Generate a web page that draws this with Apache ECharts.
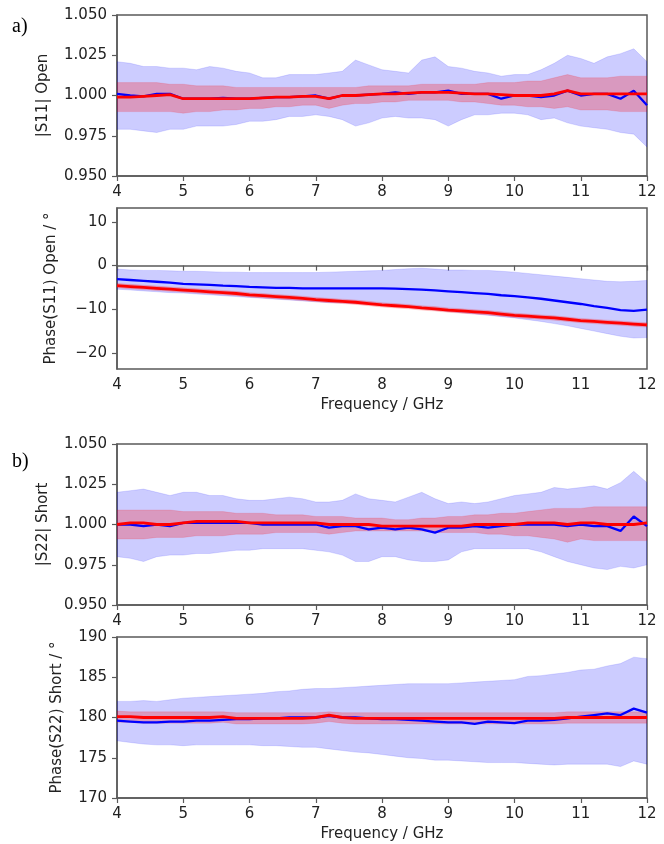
<!DOCTYPE html>
<html>
<head>
<meta charset="utf-8">
<script src="https://cdn.jsdelivr.net/npm/echarts@6/dist/echarts.min.js"></script>
<style>
html,body{margin:0;padding:0;background:#fff;}
#chart{width:664px;height:844px;}
</style>
</head>
<body>
<div id="chart"></div>
<script>
// ---------- DATA ----------
const freq = [4.0,4.2,4.4,4.6,4.8,5.0,5.2,5.4,5.6,5.8,6.0,6.2,6.4,6.6,6.8,7.0,7.2,7.4,7.6,7.8,8.0,8.2,8.4,8.6,8.8,9.0,9.2,9.4,9.6,9.8,10.0,10.2,10.4,10.6,10.8,11.0,11.2,11.4,11.6,11.8,12.0];
const xTicks = [4,5,6,7,8,9,10,11,12];

// Panel a) |S11| Open
const s11MagBlue = [1.001,1.000,0.9995,1.001,1.001,0.998,0.998,0.998,0.9985,0.998,0.998,0.9985,0.999,0.999,0.9995,1.000,0.998,1.000,1.000,1.0005,1.001,1.002,1.001,1.002,1.002,1.003,1.001,1.001,1.001,0.998,1.000,1.000,0.999,1.000,1.003,1.000,1.001,1.001,0.998,1.003,0.994];
const s11MagBlueHi = [1.021,1.020,1.018,1.018,1.017,1.017,1.016,1.018,1.017,1.015,1.014,1.011,1.011,1.013,1.013,1.013,1.014,1.015,1.022,1.019,1.016,1.015,1.014,1.022,1.024,1.018,1.017,1.015,1.014,1.012,1.013,1.013,1.016,1.020,1.025,1.023,1.020,1.024,1.026,1.029,1.021];
const s11MagBlueLo = [0.979,0.979,0.978,0.977,0.979,0.979,0.981,0.981,0.981,0.982,0.984,0.984,0.985,0.987,0.987,0.988,0.987,0.985,0.981,0.983,0.986,0.987,0.986,0.986,0.985,0.981,0.985,0.988,0.988,0.989,0.989,0.988,0.985,0.986,0.983,0.981,0.980,0.979,0.977,0.976,0.968];
const s11MagRed = [0.999,0.999,0.9995,1.000,1.0005,0.998,0.998,0.998,0.998,0.998,0.998,0.9985,0.999,0.999,0.9995,0.9995,0.998,1.000,1.000,1.0005,1.001,1.001,1.0015,1.002,1.002,1.002,1.0015,1.001,1.001,1.0005,1.000,1.000,1.000,1.001,1.003,1.001,1.001,1.001,1.001,1.001,1.001];
const s11MagRedHi = [1.008,1.008,1.008,1.008,1.007,1.007,1.006,1.006,1.006,1.005,1.005,1.005,1.005,1.005,1.005,1.005,1.005,1.005,1.005,1.006,1.006,1.006,1.006,1.007,1.007,1.007,1.007,1.007,1.008,1.008,1.008,1.009,1.009,1.011,1.013,1.011,1.011,1.011,1.012,1.012,1.012];
const s11MagRedLo = [0.990,0.990,0.990,0.990,0.990,0.989,0.990,0.990,0.991,0.991,0.992,0.992,0.993,0.993,0.994,0.994,0.992,0.994,0.995,0.995,0.996,0.996,0.997,0.997,0.997,0.997,0.996,0.996,0.995,0.994,0.994,0.993,0.993,0.992,0.993,0.991,0.991,0.991,0.990,0.990,0.990];

// Panel a) Phase(S11) Open
const s11PhBlue = [-3.1,-3.3,-3.5,-3.7,-3.9,-4.2,-4.3,-4.4,-4.6,-4.7,-4.9,-5.0,-5.1,-5.1,-5.2,-5.2,-5.2,-5.2,-5.2,-5.2,-5.2,-5.3,-5.4,-5.5,-5.7,-5.9,-6.1,-6.3,-6.5,-6.8,-7.0,-7.3,-7.6,-8.0,-8.4,-8.8,-9.3,-9.7,-10.2,-10.4,-10.1];
const s11PhBlueHi = [-0.8,-1.0,-1.1,-1.1,-1.2,-1.3,-1.3,-1.4,-1.5,-1.5,-1.6,-1.6,-1.6,-1.6,-1.6,-1.6,-1.5,-1.4,-1.3,-1.2,-1.1,-0.9,-0.7,-0.6,-0.8,-1.0,-1.0,-1.1,-1.1,-1.3,-1.5,-1.8,-2.1,-2.4,-2.7,-3.0,-3.3,-3.6,-3.7,-3.6,-3.4];
const s11PhBlueLo = [-5.4,-5.6,-5.8,-6.0,-6.2,-6.3,-6.5,-6.7,-6.9,-7.1,-7.3,-7.5,-7.7,-7.9,-8.1,-8.3,-8.5,-8.6,-8.7,-8.9,-9.1,-9.3,-9.6,-9.9,-10.2,-10.5,-10.8,-11.1,-11.4,-11.7,-12.0,-12.4,-12.8,-13.3,-13.8,-14.4,-15.0,-15.6,-16.2,-16.6,-16.5];
const s11PhRed = [-4.6,-4.8,-5.0,-5.2,-5.4,-5.6,-5.8,-6.0,-6.2,-6.4,-6.7,-6.9,-7.1,-7.3,-7.5,-7.8,-8.0,-8.2,-8.4,-8.7,-9.0,-9.2,-9.4,-9.7,-9.9,-10.2,-10.4,-10.6,-10.8,-11.1,-11.4,-11.6,-11.8,-12.0,-12.3,-12.6,-12.8,-13.0,-13.2,-13.4,-13.6];
const s11PhRedHi = [-4.1,-4.3,-4.5,-4.7,-4.9,-5.1,-5.3,-5.5,-5.7,-5.9,-6.2,-6.4,-6.6,-6.8,-7.0,-7.3,-7.5,-7.7,-7.9,-8.2,-8.5,-8.7,-8.9,-9.2,-9.4,-9.7,-9.9,-10.1,-10.3,-10.6,-10.9,-11.1,-11.3,-11.5,-11.8,-12.1,-12.3,-12.5,-12.7,-12.9,-13.1];
const s11PhRedLo = [-5.1,-5.3,-5.5,-5.7,-5.9,-6.1,-6.3,-6.5,-6.7,-6.9,-7.2,-7.4,-7.6,-7.8,-8.0,-8.3,-8.5,-8.7,-8.9,-9.2,-9.5,-9.7,-9.9,-10.2,-10.4,-10.7,-10.9,-11.1,-11.3,-11.6,-11.9,-12.1,-12.3,-12.5,-12.8,-13.1,-13.3,-13.5,-13.7,-13.9,-14.1];

// Panel b) |S22| Short
const s22MagBlue = [1.000,1.000,0.999,1.000,0.999,1.001,1.001,1.001,1.001,1.001,1.001,1.000,1.000,1.000,1.000,1.000,0.998,0.999,0.999,0.997,0.998,0.997,0.998,0.997,0.995,0.998,0.998,0.999,0.998,0.999,1.000,1.000,1.000,1.000,0.999,1.000,0.999,0.999,0.996,1.005,0.999];
const s22MagBlueHi = [1.020,1.021,1.022,1.020,1.018,1.020,1.020,1.018,1.018,1.016,1.015,1.015,1.016,1.017,1.016,1.014,1.014,1.015,1.019,1.016,1.015,1.014,1.017,1.020,1.016,1.013,1.014,1.013,1.014,1.016,1.018,1.019,1.020,1.023,1.022,1.023,1.024,1.022,1.026,1.033,1.026];
const s22MagBlueLo = [0.980,0.979,0.977,0.980,0.981,0.981,0.982,0.982,0.983,0.984,0.984,0.985,0.985,0.985,0.985,0.984,0.983,0.981,0.977,0.977,0.980,0.980,0.978,0.977,0.977,0.978,0.983,0.985,0.985,0.985,0.985,0.985,0.983,0.980,0.977,0.975,0.973,0.972,0.974,0.973,0.975];
const s22MagRed = [1.000,1.001,1.001,1.000,1.000,1.001,1.002,1.002,1.002,1.002,1.001,1.001,1.001,1.001,1.001,1.001,1.000,1.000,1.000,1.000,0.999,0.999,0.999,0.999,0.999,0.999,0.999,1.000,1.000,1.000,1.000,1.001,1.001,1.001,1.000,1.001,1.001,1.000,1.000,1.000,1.001];
const s22MagRedHi = [1.009,1.009,1.009,1.009,1.009,1.008,1.008,1.008,1.008,1.007,1.007,1.007,1.006,1.006,1.006,1.005,1.005,1.005,1.004,1.004,1.004,1.003,1.003,1.004,1.004,1.005,1.005,1.006,1.006,1.007,1.007,1.008,1.009,1.010,1.010,1.010,1.011,1.011,1.011,1.011,1.011];
const s22MagRedLo = [0.991,0.991,0.991,0.992,0.992,0.992,0.993,0.993,0.993,0.994,0.994,0.994,0.995,0.995,0.995,0.995,0.994,0.995,0.996,0.996,0.996,0.996,0.996,0.996,0.995,0.995,0.995,0.995,0.994,0.994,0.993,0.993,0.992,0.991,0.989,0.991,0.990,0.990,0.990,0.990,0.990];

// Panel b) Phase(S22) Short
const s22PhBlue = [179.6,179.5,179.4,179.4,179.5,179.5,179.6,179.6,179.7,179.8,179.8,179.9,179.9,180.0,180.0,180.0,180.2,180.0,180.0,179.9,179.8,179.8,179.7,179.6,179.5,179.4,179.4,179.2,179.5,179.4,179.3,179.6,179.6,179.7,179.9,180.1,180.3,180.5,180.3,181.1,180.6];
const s22PhBlueHi = [182.0,182.0,182.1,182.0,182.2,182.4,182.5,182.6,182.7,182.8,182.9,183.0,183.2,183.3,183.5,183.6,183.6,183.7,183.8,183.9,184.0,184.1,184.2,184.2,184.2,184.2,184.3,184.4,184.5,184.6,184.7,185.1,185.2,185.4,185.6,185.9,186.0,186.4,186.7,187.5,187.3];
const s22PhBlueLo = [177.1,176.9,176.7,176.6,176.6,176.5,176.6,176.6,176.6,176.6,176.6,176.5,176.5,176.4,176.3,176.3,176.1,175.9,175.7,175.6,175.4,175.2,175.0,174.9,174.7,174.7,174.6,174.5,174.4,174.4,174.4,174.3,174.2,174.1,174.2,174.2,174.2,174.2,173.9,174.6,174.2];
const s22PhRed = [180.1,180.1,180.0,180.0,180.0,180.0,180.0,180.0,180.1,179.9,179.9,179.9,179.9,179.9,179.9,180.0,180.3,180.0,179.9,179.9,179.9,179.9,179.9,179.9,179.9,179.9,179.9,179.9,179.9,179.9,179.9,179.9,179.9,179.9,180.0,180.0,180.0,180.0,180.0,180.0,180.0];
const s22PhRedHi = [180.8,180.7,180.7,180.7,180.7,180.7,180.7,180.7,180.7,180.6,180.6,180.6,180.6,180.6,180.6,180.6,180.7,180.6,180.6,180.6,180.6,180.6,180.6,180.6,180.6,180.6,180.6,180.6,180.6,180.6,180.6,180.6,180.6,180.6,180.7,180.7,180.7,180.7,180.7,180.7,180.7];
const s22PhRedLo = [179.4,179.4,179.3,179.3,179.3,179.3,179.3,179.3,179.4,179.2,179.2,179.2,179.2,179.2,179.2,179.3,179.5,179.3,179.2,179.2,179.2,179.2,179.2,179.2,179.2,179.2,179.2,179.2,179.2,179.2,179.2,179.2,179.2,179.2,179.3,179.3,179.3,179.3,179.3,179.3,179.3];

const yTicksMag = [0.950,0.975,1.000,1.025,1.050];
const yTicksPh11 = [-20,-10,0,10];
const yTicksPh22 = [170,175,180,185,190];

// ---------- STYLE / BUILD ----------
const FONT = 'DejaVu Sans';
const TXT = '#222';
const SPINE = '#5a5a5a';
const BLUE = '#0000ff', RED = '#ff0000';
const BLUE_FILL = 'rgba(0,0,255,0.2)', RED_FILL = 'rgba(255,0,0,0.25)';

const grids = [
  {left:117, top:15,  width:530, height:161},
  {left:117, top:208, width:530, height:161},
  {left:117, top:444, width:530, height:161},
  {left:117, top:637, width:530, height:161}
].map(g => Object.assign(g, {show:true, borderColor:SPINE, borderWidth:1.5, backgroundColor:'transparent'}));

function xAxis(i, named) {
  return {
    type:'value', gridIndex:i, min:4, max:12, interval:1,
    axisLine:{show:true, lineStyle:{color:SPINE, width:1.5}},
    axisTick:{show:true, length:5, lineStyle:{color:SPINE, width:1.2}},
    splitLine:{show:false},
    axisLabel:{fontFamily:FONT, fontSize:15, color:TXT, margin:9},
    name: named ? 'Frequency / GHz' : '',
    nameLocation:'middle', nameGap:29,
    nameTextStyle:{fontFamily:FONT, fontSize:15, color:TXT}
  };
}
function yAxis(i, name, gap, min, max, ticks, fmt) {
  return {
    type:'value', gridIndex:i, min:min, max:max,
    axisLine:{show:true, lineStyle:{color:SPINE, width:1.5}},
    axisTick:{show:true, length:5, lineStyle:{color:SPINE, width:1.2}, customValues:ticks},
    splitLine:{show:false},
    axisLabel:{fontFamily:FONT, fontSize:15, color:TXT, margin:10, customValues:ticks,
      formatter: v => fmt(v)},
    name:name, nameLocation:'middle', nameRotate:90, nameGap:gap,
    nameTextStyle:{fontFamily:FONT, fontSize:15, color:TXT}
  };
}
function pairs(ys){ return freq.map((f,k)=>[f, ys[k]]); }

// filled band between lo and hi, drawn through the axis scales (api.coord)
function band(i, lo, hi, fill, edge) {
  const rows = freq.map((f,k)=>[f, lo[k], hi[k]]);
  return {
    type:'custom', xAxisIndex:i, yAxisIndex:i, data:rows, silent:true, z:1,
    encode:{x:0, y:[1,2]},
    renderItem: function(params, api) {
      if (params.dataIndex !== 0) return null;
      const top = [], bot = [];
      for (let k = 0; k < rows.length; k++) {
        top.push(api.coord([rows[k][0], rows[k][2]]));
        bot.push(api.coord([rows[k][0], rows[k][1]]));
      }
      const pts = top.concat(bot.reverse());
      const cs = params.coordSys;
      return {
        type:'polygon',
        shape:{points:pts},
        style:{fill:fill, stroke:edge, lineWidth:1},
        clipPath:{type:'rect', shape:{x:cs.x, y:cs.y, width:cs.width, height:cs.height}}
      };
    }
  };
}
function line(i, ys, color, w, z) {
  return {type:'line', xAxisIndex:i, yAxisIndex:i, data:pairs(ys), symbol:'none',
    lineStyle:{color:color, width:w}, silent:true, z:z};
}
function panel(i, bHi, bLo, rHi, rLo, bMean, rMean) {
  return [
    band(i, bLo, bHi, BLUE_FILL, 'rgba(0,0,255,0.12)'),
    band(i, rLo, rHi, RED_FILL, 'rgba(255,0,0,0.12)'),
    line(i, bMean, BLUE, 2.3, 3),
    line(i, rMean, RED, 2.8, 4)
  ];
}

const magFmt = v => v.toFixed(3);
const intFmt = v => String(Math.round(v)).replace('-', '\u2212');

const option = {
  animation:false,
  backgroundColor:'#fff',
  grid: grids,
  xAxis: [xAxis(0,false), xAxis(1,true), xAxis(2,false), xAxis(3,true)],
  yAxis: [
    yAxis(0, '|S11| Open', 66, 0.95, 1.05, yTicksMag, magFmt),
    yAxis(1, 'Phase(S11) Open / \u00b0', 58, -23.7, 13.2, yTicksPh11, intFmt),
    yAxis(2, '|S22| Short', 66, 0.95, 1.05, yTicksMag, magFmt),
    yAxis(3, 'Phase(S22) Short / \u00b0', 52, 170, 190, yTicksPh22, intFmt)
  ],
  series: [
    ...panel(0, s11MagBlueHi, s11MagBlueLo, s11MagRedHi, s11MagRedLo, s11MagBlue, s11MagRed),
    ...panel(1, s11PhBlueHi, s11PhBlueLo, s11PhRedHi, s11PhRedLo, s11PhBlue, s11PhRed),
    ...panel(2, s22MagBlueHi, s22MagBlueLo, s22MagRedHi, s22MagRedLo, s22MagBlue, s22MagRed),
    ...panel(3, s22PhBlueHi, s22PhBlueLo, s22PhRedHi, s22PhRedLo, s22PhBlue, s22PhRed)
  ],
  graphic: [
    {type:'text', left:12, top:17, style:{text:'a)', font:'20px "Liberation Serif"', fill:'#000'}},
    {type:'text', left:12, top:452, style:{text:'b)', font:'20px "Liberation Serif"', fill:'#000'}}
  ]
};

const chart = echarts.init(document.getElementById('chart'), null, {renderer:'canvas'});
chart.setOption(option);
</script>
</body>
</html>
